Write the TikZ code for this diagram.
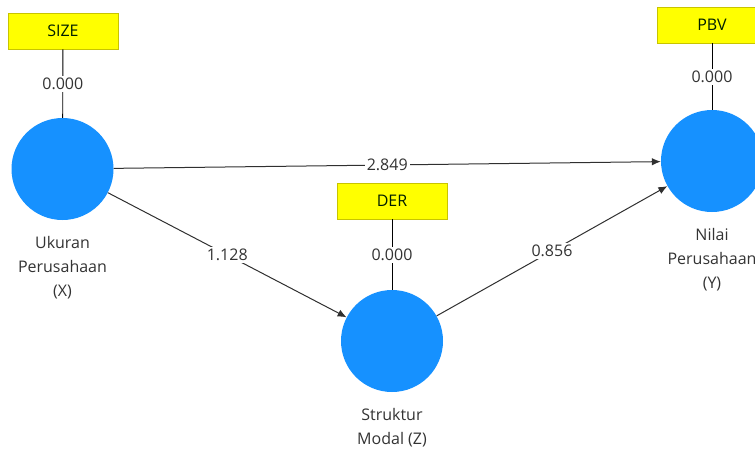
\documentclass[tikz,border=0pt]{standalone}
\usepackage{fontspec}
\setmainfont{Open Sans}
\usetikzlibrary{arrows.meta}
\definecolor{lvblue}{HTML}{1691FF}
\definecolor{indyellow}{HTML}{FFFF00}
\definecolor{indedge}{HTML}{C8C400}
\definecolor{pathgray}{HTML}{303030}

\begin{document}
\begin{tikzpicture}[x=1pt,y=-1pt,>={Latex[length=9pt,width=7.5pt]},
  font=\fontsize{16}{24}\selectfont,
  latent/.style={circle,fill=lvblue,minimum size=102pt,inner sep=0pt},
  indicator/.style={rectangle,fill=indyellow,draw=indedge,line width=0.8pt,minimum width=110pt,minimum height=36pt,text=black!80!green!60!black},
  lvlabel/.style={below=16pt,align=center,text=black!80,inner sep=0pt},
  weight/.style={midway,fill=white,inner sep=2pt,text=black!80}]
 \useasboundingbox (0,0) rectangle (755,450);
 \clip (0,0) rectangle (755,450);

 \node[latent] (X) at (62.5,169) {};
 \node[latent] (Z) at (392,341) {};
 \node[latent] (Y) at (712,161) {};

 \node[indicator] (size) at (63,31) {SIZE};
 \node[indicator] (der) at (392,201) {DER};
 \node[indicator] (pbv) at (712,25) {PBV};

 \node[lvlabel] at (X.south) {Ukuran\\Perusahaan\\(X)};
 \node[lvlabel] at (Z.south) {Struktur\\Modal (Z)};
 \node[lvlabel] at (Y.south) {Nilai\\Perusahaan\\(Y)};

 % outer loadings
 \draw[line width=0.9pt] (size) -- (X) node[weight] {0.000};
 \draw[line width=0.9pt] (der) -- (Z) node[weight] {0.000};
 \draw[line width=0.9pt] (pbv) -- (Y) node[weight] {0.000};

 % path coefficients
 \draw[->,pathgray,line width=1pt] (X) -- (Y) node[weight] {2.849};
 \draw[->,pathgray,line width=1pt] (X) -- (Z) node[weight] {1.128};
 \draw[->,pathgray,line width=1pt] (Z) -- (Y) node[weight] {0.856};
\end{tikzpicture}
\end{document}
